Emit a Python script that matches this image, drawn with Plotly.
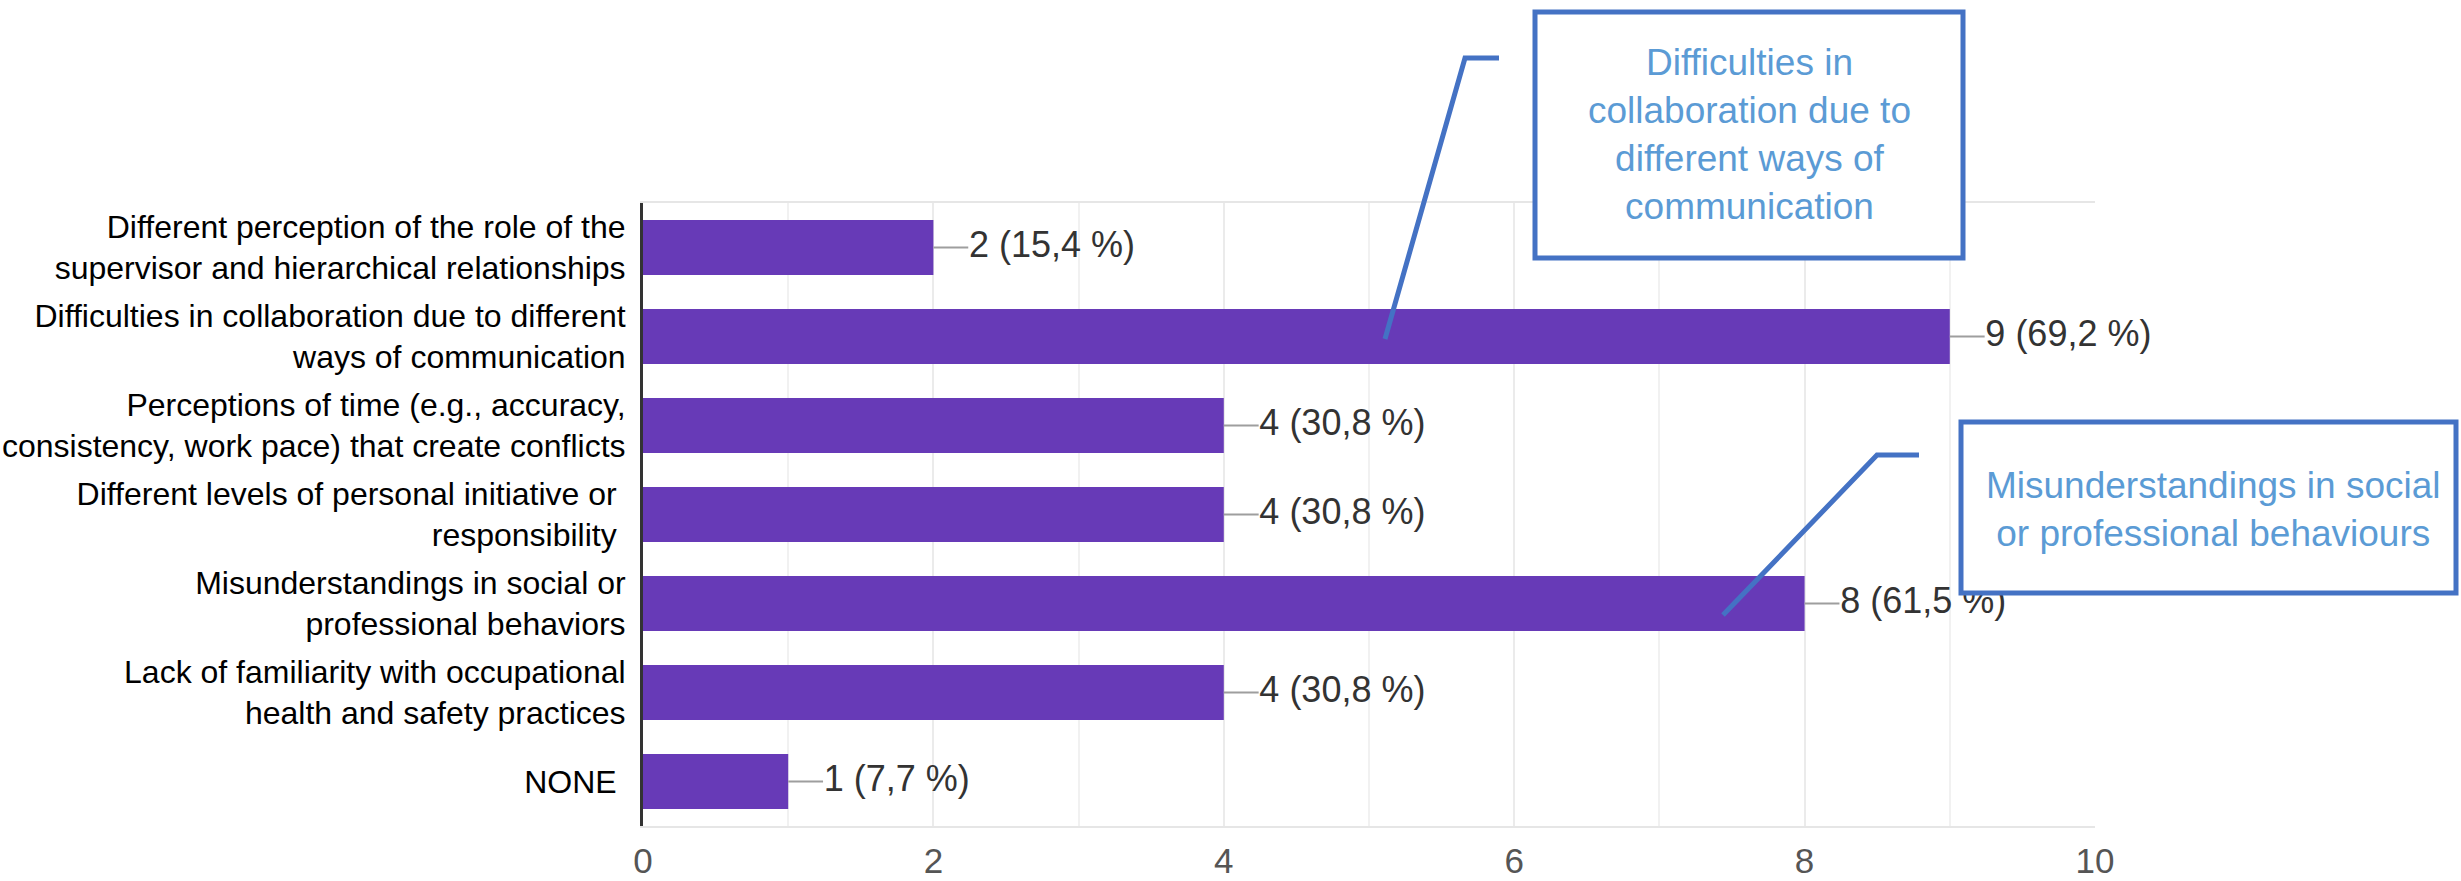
import plotly.graph_objects as go

# ---------------- data ----------------
categories = [
    "Different perception of the role of the<br>supervisor and hierarchical relationships",
    "Difficulties in collaboration due to different<br>ways of communication",
    "Perceptions of time (e.g., accuracy,<br>consistency, work pace) that create conflicts",
    "Different levels of personal initiative or\u00a0<br>responsibility\u00a0",
    "Misunderstandings in social or<br>professional behaviors",
    "Lack of familiarity with occupational<br>health and safety practices",
    "NONE\u00a0",
]
counts = [2, 9, 4, 4, 8, 4, 1]
percent_labels = ["15,4 %", "69,2 %", "30,8 %", "30,8 %", "61,5 %", "30,8 %", "7,7 %"]
x_tick_values = [0, 2, 4, 6, 8, 10]
x_tick_labels = ["0", "2", "4", "6", "8", "10"]
callout_texts = [
    "Difficulties in<br>collaboration due to<br>different ways of<br>communication",
    "Misunderstandings in social<br>or professional behaviours",
]

# ---------------- style ----------------
W, H = 2461, 881
ML, MR, MT, MB = 643, 366, 203, 55
PW, PH = W - ML - MR, H - MT - MB
FONT = "Liberation Sans, Arial, sans-serif"
BAR_COLOR = "#673ab7"
BOX_LINE = "#4472c4"
BOX_TEXT = "#5b9bd5"


def px(xp):
    return (xp - ML) / PW


def py(yp):
    return (H - MB - yp) / PH


fig = go.Figure()

fig.add_trace(go.Bar(
    x=counts, y=categories, orientation="h",
    marker=dict(color=BAR_COLOR, line=dict(width=0)),
    hoverinfo="skip",
))

# leader segments from bar ends to value labels
lx, ly = [], []
for c, v in zip(categories, counts):
    lx += [v, v + 0.24, None]
    ly += [c, c, None]
fig.add_trace(go.Scatter(
    x=lx, y=ly, mode="lines",
    line=dict(color="#9e9e9e", width=2),
    cliponaxis=False, hoverinfo="skip",
))

fig.add_trace(go.Scatter(
    x=[v + 0.245 for v in counts], y=categories, mode="text",
    text=[f"{v} ({p})" for v, p in zip(counts, percent_labels)],
    textposition="middle right",
    textfont=dict(family=FONT, size=36, color="#333333"),
    cliponaxis=False, hoverinfo="skip",
))

shapes = []
# callout 1
shapes.append(dict(type="path", xref="paper", yref="paper",
                   path=f"M {px(1499)} {py(58)} L {px(1465)} {py(58)} L {px(1385)} {py(339)}",
                   line=dict(color=BOX_LINE, width=5), layer="above"))
shapes.append(dict(type="rect", xref="paper", yref="paper",
                   x0=px(1535), x1=px(1963), y0=py(258), y1=py(12),
                   line=dict(color=BOX_LINE, width=5), fillcolor="white", layer="above"))
# callout 2
shapes.append(dict(type="path", xref="paper", yref="paper",
                   path=f"M {px(1919)} {py(455)} L {px(1877)} {py(455)} L {px(1723)} {py(615)}",
                   line=dict(color=BOX_LINE, width=5), layer="above"))
shapes.append(dict(type="rect", xref="paper", yref="paper",
                   x0=px(1961), x1=px(2456), y0=py(593), y1=py(422),
                   line=dict(color=BOX_LINE, width=5), fillcolor="white", layer="above"))

annotations = [
    dict(xref="paper", yref="paper", x=px(1749), y=py(135), text=callout_texts[0],
         showarrow=False, xanchor="center", yanchor="middle", align="center",
         font=dict(family=FONT, size=37, color=BOX_TEXT)),
    dict(xref="paper", yref="paper", x=px(2213), y=py(509), text=callout_texts[1],
         showarrow=False, xanchor="center", yanchor="middle", align="center",
         font=dict(family=FONT, size=37, color=BOX_TEXT)),
]

fig.update_layout(
    width=W, height=H,
    margin=dict(l=ML, r=MR, t=MT, b=MB, autoexpand=False),
    paper_bgcolor="white", plot_bgcolor="white",
    showlegend=False,
    bargap=0.38,
    font=dict(family=FONT),
    shapes=shapes,
    annotations=annotations,
    xaxis=dict(
        range=[0, 10], tickvals=x_tick_values, ticktext=x_tick_labels,
        showgrid=True, gridcolor="#ebebeb", gridwidth=2,
        minor=dict(dtick=1, showgrid=True, gridcolor="#f1f1f1", gridwidth=2),
        zeroline=False, showline=True, linecolor="#e6e6e6", linewidth=2, mirror=True,
        tickfont=dict(family=FONT, size=35, color="#555555"),
        ticklabelstandoff=3, fixedrange=True,
    ),
    yaxis=dict(
        type="category", categoryorder="array", categoryarray=categories,
        autorange="reversed",
        showgrid=False, zeroline=False,
        showline=True, linecolor="#333333", linewidth=3,
        tickfont=dict(family=FONT, size=32, color="#000000"),
        ticklabelstandoff=8, fixedrange=True,
    ),
)

fig.write_html("out.html")
